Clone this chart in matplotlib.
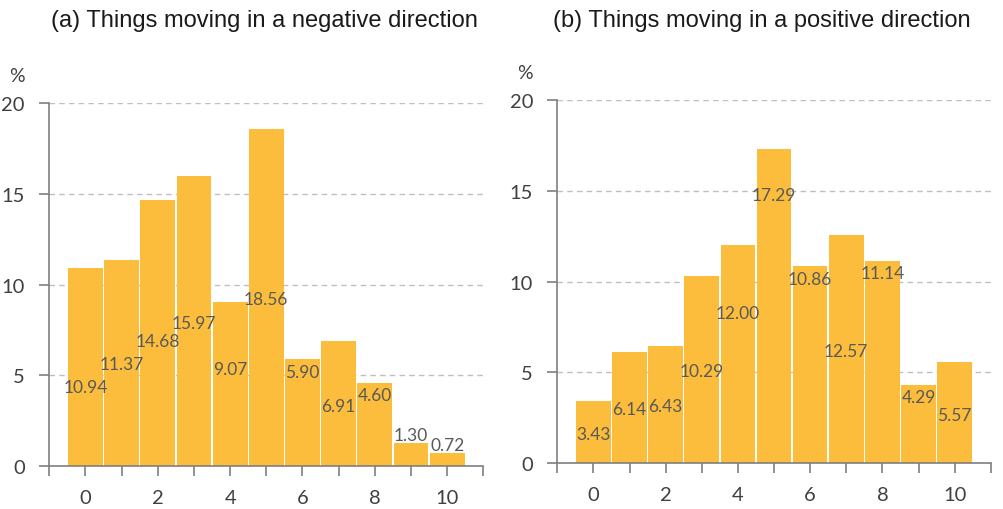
import numpy as np
import matplotlib
matplotlib.use("Agg")
import matplotlib.pyplot as plt
from matplotlib.ticker import MultipleLocator

# data
scores = list(range(11))
negative = [10.94, 11.37, 14.68, 15.97, 9.07, 18.56, 5.90, 6.91, 4.60, 1.30, 0.72]
positive = [3.43, 6.14, 6.43, 10.29, 12.00, 17.29, 10.86, 12.57, 11.14, 4.29, 5.57]
titles = ["(a) Things moving in a negative direction",
          "(b) Things moving in a positive direction"]

# where the value labels sit (y, in data units) in the original
neg_label_y = [4.35, 5.63, 6.92, 7.87, 5.36, 9.21, 5.17, 3.34, 3.93, 1.74, 1.19]
pos_label_y = [1.61, 2.99, 3.13, 5.10, 8.25, 14.76, 10.14, 6.20, 10.47, 3.63, 2.68]

bar_color = "#FBBD3B"
text_color = "#595959"
axis_color = "#7F7F7F"
num_font = "Lato"

fig = plt.figure(figsize=(10.04, 5.1), dpi=100)
ax_a = fig.add_axes([0.0491, 0.0837, 0.4323, 0.7124])
ax_b = fig.add_axes([0.5551, 0.0896, 0.4317, 0.7129])

panels = [(ax_a, negative, neg_label_y, titles[0]),
          (ax_b, positive, pos_label_y, titles[1])]

for ax, vals, label_y, title in panels:
    ax.bar(scores, vals, width=0.96, color=bar_color, zorder=2)
    for x, v, ly in zip(scores, vals, label_y):
        ax.text(x, ly, f"{v:.2f}", ha="center", va="center", fontsize=12.5,
                color=text_color, family=num_font, zorder=3)

    ax.set_xlim(-1, 11)
    ax.set_ylim(0, 20)
    ax.yaxis.set_major_locator(MultipleLocator(5))
    ax.xaxis.set_major_locator(MultipleLocator(2))
    ax.xaxis.set_minor_locator(MultipleLocator(1))
    ax.grid(axis="y", linestyle=(0, (4, 3)), color="#BFBFBF", linewidth=1, zorder=0)

    for side in ["top", "right"]:
        ax.spines[side].set_visible(False)
    for side in ["left", "bottom"]:
        ax.spines[side].set_color(axis_color)
        ax.spines[side].set_linewidth(1.2)

    ax.tick_params(axis="both", which="both", color=axis_color, width=1.2,
                   labelcolor="#404040", labelsize=14.5)
    ax.tick_params(axis="y", length=7, pad=10.5)
    ax.tick_params(axis="x", which="both", length=7, pad=9)
    for lab in ax.get_xticklabels() + ax.get_yticklabels():
        lab.set_family(num_font)

    ax.text(-0.075, 1.075, "%", transform=ax.transAxes, ha="center", va="center",
            fontsize=14, color="#404040", family=num_font)

fig.text(0.263, 0.958, titles[0], ha="center", va="center", fontsize=17,
         family="Liberation Sans", color="#1A1A1A")
fig.text(0.759, 0.958, titles[1], ha="center", va="center", fontsize=17,
         family="Liberation Sans", color="#1A1A1A")

fig.savefig("out.png", dpi=100)
